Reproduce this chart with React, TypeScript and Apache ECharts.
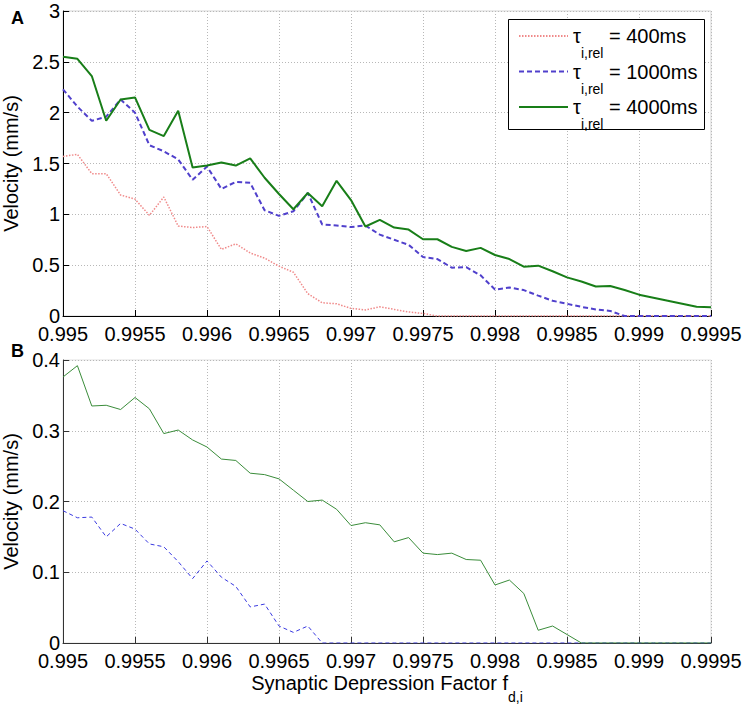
import { useEffect, useRef } from 'react';
import * as echarts from 'echarts';

const xValues = [
  0.995, 0.9951, 0.9952, 0.9953, 0.9954, 0.9955, 0.9956, 0.9957, 0.9958, 0.9959,
  0.996, 0.9961, 0.9962, 0.9963, 0.9964, 0.9965, 0.9966, 0.9967, 0.9968, 0.9969,
  0.997, 0.9971, 0.9972, 0.9973, 0.9974, 0.9975, 0.9976, 0.9977, 0.9978, 0.9979,
  0.998, 0.9981, 0.9982, 0.9983, 0.9984, 0.9985, 0.9986, 0.9987, 0.9988, 0.9989,
  0.999, 0.9991, 0.9992, 0.9993, 0.9994, 0.9995,
];

// Panel A
const aTau400 = [
  1.57, 1.59, 1.4, 1.4, 1.19, 1.15, 0.99, 1.17, 0.885, 0.87,
  0.88, 0.655, 0.71, 0.62, 0.57, 0.49, 0.43, 0.22, 0.13, 0.12,
  0.075, 0.06, 0.09, 0.065, 0.04, 0.025, 0, 0, 0, 0,
  0, 0, 0, 0, 0, 0, 0, 0, 0, 0,
  0, 0, 0, 0, 0, 0,
];
const aTau1000 = [
  2.23, 2.06, 1.92, 1.96, 2.13, 2.0, 1.68, 1.62, 1.54, 1.34,
  1.47, 1.25, 1.32, 1.31, 1.04, 0.985, 1.03, 1.21, 0.9, 0.89,
  0.875, 0.89, 0.8, 0.75, 0.7, 0.58, 0.56, 0.475, 0.48, 0.4,
  0.26, 0.28, 0.255, 0.2, 0.15, 0.12, 0.09, 0.065, 0.05, 0,
  0, 0, 0, 0, 0, 0,
];
const aTau4000 = [
  2.55, 2.53, 2.36, 1.92, 2.13, 2.15, 1.83, 1.77, 2.02, 1.46,
  1.48, 1.51, 1.48, 1.55, 1.36, 1.2, 1.05, 1.21, 1.08, 1.33,
  1.14, 0.88, 0.945, 0.87, 0.85, 0.755, 0.755, 0.68, 0.64, 0.67,
  0.6, 0.56, 0.485, 0.495, 0.44, 0.38, 0.34, 0.29, 0.295, 0.255,
  0.21, 0.18, 0.15, 0.12, 0.09, 0.085,
];

// Panel B
const bTau1000 = [
  0.187, 0.177, 0.178, 0.15, 0.169, 0.161, 0.14, 0.136, 0.115, 0.091,
  0.116, 0.093, 0.08, 0.051, 0.055, 0.024, 0.015, 0.024, 0, 0,
  0, 0, 0, 0, 0, 0, 0, 0, 0, 0,
  0, 0, 0, 0, 0, 0, 0, 0, 0, 0,
  0, 0, 0, 0, 0, 0,
];
const bTau4000 = [
  0.376, 0.392, 0.335, 0.336, 0.33, 0.347, 0.331, 0.296, 0.301, 0.287,
  0.277, 0.26, 0.258, 0.24, 0.238, 0.232, 0.216, 0.2, 0.202, 0.189,
  0.166, 0.17, 0.167, 0.143, 0.149, 0.127, 0.125, 0.127, 0.118, 0.117,
  0.082, 0.089, 0.07, 0.018, 0.024, 0.012, 0, 0, 0, 0,
  0, 0, 0, 0, 0, 0,
];

const seriesNames = ['400ms', '1000ms', '4000ms'];
const yTicksA = { min: 0, max: 3, interval: 0.5 };
const yTicksB = { min: 0, max: 0.4, interval: 0.1 };
const xTicks = { min: 0.995, max: 0.9995, interval: 0.0005 };

const FONT = "'Liberation Sans', Arial, sans-serif";
const FS = 20;

const zip = (ys: number[]) => xValues.map((x, i) => [x, ys[i]]);

const fmtX = (v: number) => String(+v.toFixed(4));
const fmtY = (v: number) => String(+v.toFixed(2));

function makeX(gridIndex: number, axisColor: string, withName: boolean) {
  return {
    type: 'value',
    gridIndex,
    min: xTicks.min,
    max: xTicks.max,
    interval: xTicks.interval,
    name: withName ? '{n|Synaptic Depression Factor f}{s|d,i}' : '',
    nameLocation: 'middle',
    nameGap: 30,
    nameMoveOverlap: false,
    nameTextStyle: {
      rich: {
        n: { fontFamily: FONT, fontSize: FS, color: '#000', lineHeight: 20, verticalAlign: 'middle' },
        s: { fontFamily: FONT, fontSize: 14, color: '#000', lineHeight: 12, padding: [28, 0, 0, 0], verticalAlign: 'middle' },
      },
    },
    axisLine: { show: true, onZero: false, lineStyle: { color: axisColor, width: 1 } },
    axisTick: { show: true, inside: true, length: 6, lineStyle: { color: axisColor } },
    axisLabel: { formatter: fmtX, color: '#000', fontFamily: FONT, fontSize: FS, margin: 8 },
    splitLine: { show: true, lineStyle: { color: '#b8b8b8', type: [1, 2], width: 1 } },
  };
}

function makeY(gridIndex: number, ticks: { min: number; max: number; interval: number }, axisColor: string) {
  return {
    type: 'value',
    gridIndex,
    min: ticks.min,
    max: ticks.max,
    interval: ticks.interval,
    name: 'Velocity (mm/s)',
    nameLocation: 'middle',
    nameGap: 42,
    nameTextStyle: { fontFamily: FONT, fontSize: FS, color: '#000' },
    axisLine: { show: true, onZero: false, lineStyle: { color: axisColor, width: 1 } },
    axisTick: { show: true, inside: true, length: 6, lineStyle: { color: axisColor } },
    axisLabel: { formatter: fmtY, color: '#000', fontFamily: FONT, fontSize: FS, margin: 3, lineHeight: 14 },
    splitLine: { show: true, lineStyle: { color: '#b8b8b8', type: [1, 2], width: 1 } },
  };
}

export default function App() {
  const ref = useRef<HTMLDivElement>(null);
  useEffect(() => {
    const chart = echarts.init(ref.current!, null, { renderer: 'svg' });
    const option = {
      animation: false,
      backgroundColor: '#fff',
      grid: [
        { left: 63, top: 11, width: 648, height: 305, show: true, borderColor: '#d4d4d4', borderWidth: 1, backgroundColor: 'transparent', containLabel: false, outerBoundsMode: 'none' },
        { left: 63, top: 360, width: 648, height: 283, show: true, borderColor: '#e0e0e0', borderWidth: 1, backgroundColor: 'transparent', containLabel: false, outerBoundsMode: 'none' },
      ],
      xAxis: [makeX(0, '#000', false), makeX(1, '#333', true)],
      yAxis: [makeY(0, yTicksA, '#000'), makeY(1, yTicksB, '#333')],
      legend: {
        data: seriesNames,
        orient: 'vertical',
        left: 508,
        top: 12,
        z: 10,
        padding: [0, 6, 0, 10],
        itemGap: -12.5,
        itemWidth: 49,
        itemHeight: 14,
        borderWidth: 0,
        backgroundColor: 'transparent',
        itemStyle: { opacity: 0 },
        formatter: (name: string) => `{t|τ}{s|i,rel}{n| = ${name}}`,
        textStyle: {
          rich: {
            t: { fontFamily: FONT, fontSize: FS, color: '#000', lineHeight: 20, verticalAlign: 'middle' },
            n: { fontFamily: FONT, fontSize: FS, color: '#000', lineHeight: 20, verticalAlign: 'middle' },
            s: { fontFamily: FONT, fontSize: 14, color: '#000', lineHeight: 14, padding: [34, 0, 0, 0], verticalAlign: 'middle' },
          },
        },
      },
      graphic: [
        { type: 'rect', z: 9, shape: { x: 508.5, y: 19.5, width: 196, height: 110 }, style: { fill: '#fff', stroke: '#000', lineWidth: 1 } },
        { type: 'text', left: 11, top: 9, style: { text: 'A', fontFamily: FONT, fontSize: 18, fontWeight: 'bold', fill: '#000' } },
        { type: 'text', left: 11, top: 342, style: { text: 'B', fontFamily: FONT, fontSize: 18, fontWeight: 'bold', fill: '#000' } },
      ],
      series: [
        {
          name: seriesNames[0], type: 'line', xAxisIndex: 0, yAxisIndex: 0, data: zip(aTau400),
          symbol: 'none', z: 3,
          lineStyle: { color: '#f08a8a', width: 1.5, type: [1.5, 1.5] }, itemStyle: { color: '#f08a8a' },
        },
        {
          name: seriesNames[1], type: 'line', xAxisIndex: 0, yAxisIndex: 0, data: zip(aTau1000),
          symbol: 'none', z: 4,
          lineStyle: { color: '#5040cc', width: 2, type: [5, 3] }, itemStyle: { color: '#5040cc' },
        },
        {
          name: seriesNames[2], type: 'line', xAxisIndex: 0, yAxisIndex: 0, data: zip(aTau4000),
          symbol: 'none', z: 5,
          lineStyle: { color: '#187e18', width: 2 }, itemStyle: { color: '#187e18' },
        },
        {
          name: 'B ' + seriesNames[1], type: 'line', xAxisIndex: 1, yAxisIndex: 1, data: zip(bTau1000),
          symbol: 'none', z: 4,
          lineStyle: { color: '#3a3ae0', width: 1, type: [4, 3] }, itemStyle: { color: '#3a3ae0' },
        },
        {
          name: 'B ' + seriesNames[2], type: 'line', xAxisIndex: 1, yAxisIndex: 1, data: zip(bTau4000),
          symbol: 'none', z: 5,
          lineStyle: { color: '#3a8c3a', width: 1 }, itemStyle: { color: '#3a8c3a' },
        },
      ],
    };
    chart.setOption(option as any);
    return () => chart.dispose();
  }, []);
  return <div ref={ref} style={{ position: 'absolute', left: 0, top: 0, width: 746, height: 706 }} />;
}
